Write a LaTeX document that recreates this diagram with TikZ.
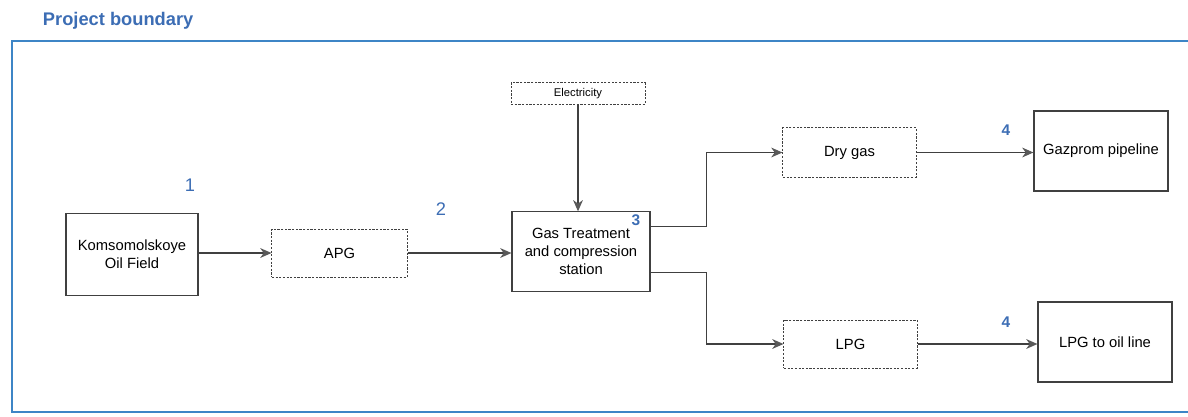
\documentclass[tikz,border=0pt]{standalone}
\usepackage{fontspec}
\setmainfont{Liberation Sans}
\usetikzlibrary{arrows.meta}
\definecolor{boundblue}{HTML}{3D85C6}
\definecolor{labelblue}{HTML}{3C6DB4}
\definecolor{linegray}{HTML}{404040}

\begin{document}
\begin{tikzpicture}[x=0.025cm,y=-0.025cm,
  solidbox/.style={draw=linegray, line width=0.8pt, align=center, inner sep=0pt,
    font=\fontsize{10.5}{12.7}\selectfont},
  dashbox/.style={solidbox, line width=0.6pt, dash pattern=on 1.6pt off 1pt},
  flow/.style={draw=linegray, line width=0.8pt,
    -{Stealth[length=8pt,width=7pt,inset=2.5pt,fill=gray!70!black,color=gray!70!black]}},
  stepno/.style={text=labelblue, font=\fontsize{13}{13}\selectfont},
  stepnob/.style={text=labelblue, font=\bfseries\fontsize{11}{11}\selectfont}]
\useasboundingbox (0,0) rectangle (1188,416);

% project boundary
\node[text=labelblue, font=\bfseries\fontsize{13}{13}\selectfont, anchor=west] (title) at (38,21) {Project boundary};
\draw[boundblue, line width=1.6pt] (1200,41) -- (12,41) -- (12,412) -- (1200,412);

% boxes
\node[solidbox, minimum width=3.3cm, minimum height=2.03cm] (field) at (132,254.5) {Komsomolskoye\\Oil Field};
\node[dashbox, minimum width=3.38cm, minimum height=1.2cm] (apg) at (339.5,253) {APG};
\node[dashbox, minimum width=3.35cm, minimum height=0.53cm, font=\fontsize{8}{8}\selectfont] (elec) at (578,93.5) {Electricity};
\node[solidbox, minimum width=3.45cm, minimum height=1.98cm] (gts) at (581,251.5) {Gas Treatment\\and compression\\station};
\node[dashbox, minimum width=3.33cm, minimum height=1.23cm] (dry) at (849.5,152.5) {Dry gas};
\node[solidbox, minimum width=3.35cm, minimum height=2cm] (gazprom) at (1101,151) {Gazprom pipeline};
\node[dashbox, minimum width=3.33cm, minimum height=1.2cm] (lpg) at (850.5,344) {LPG};
\node[solidbox, minimum width=3.35cm, minimum height=2cm] (oilline) at (1105,342) {LPG to oil line};

% flows
\draw[flow] (apg.west -| field.east) -- (apg.west);
\draw[flow] (apg) -- (apg -| gts.west);
\draw[flow] (elec) -- (elec |- gts.north);
\draw[flow] ([yshift=18pt]gts.east) -- ++(56,0) |- (dry.west);
\draw[flow] ([yshift=-15pt]gts.east) -- ++(56,0) |- (lpg.west);
\draw[flow] (dry) -- (dry -| gazprom.west);
\draw[flow] (lpg) -- (lpg -| oilline.west);

% step numbers
\node[stepno] (n1) at (190,185) {1};
\node[stepno] (n2) at (441,209) {2};
\node[stepnob] (n3) at (636,220) {3};
\node[stepnob] (n4a) at (1006,130) {4};
\node[stepnob] (n4b) at (1006,322) {4};
\end{tikzpicture}
\end{document}
